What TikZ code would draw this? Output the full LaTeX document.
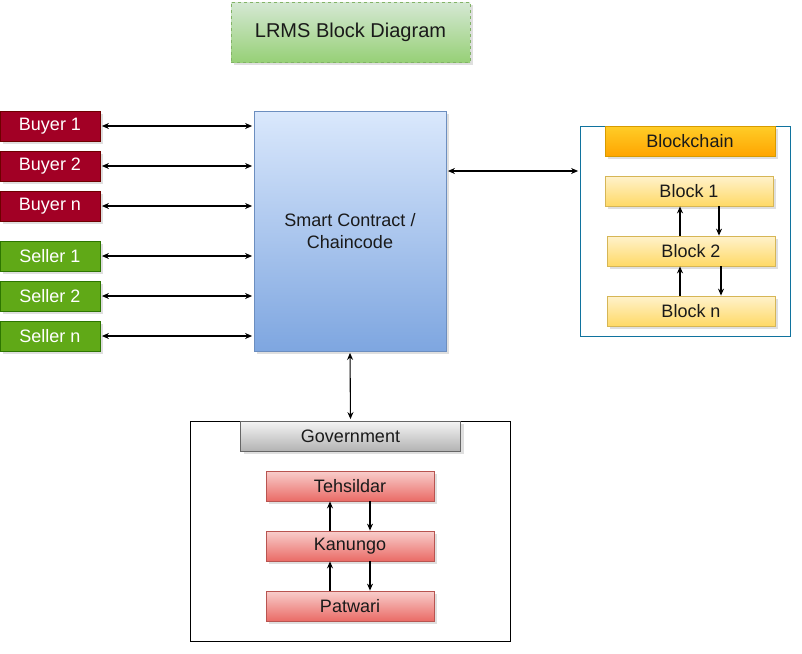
\documentclass[tikz,border=0pt]{standalone}
\usepackage{fontspec}
\setmainfont{Liberation Sans}
\usetikzlibrary{shadows}
\usetikzlibrary{arrows.meta}
\usetikzlibrary{calc}
\usepackage{xcolor}

\definecolor{buyerfill}{HTML}{A20025}
\definecolor{buyerline}{HTML}{6F0000}
\definecolor{sellerfill}{HTML}{60A917}
\definecolor{sellerline}{HTML}{2D7600}
\definecolor{sctop}{HTML}{DAE8FC}
\definecolor{scbot}{HTML}{7EA6E0}
\definecolor{scline}{HTML}{6C8EBF}
\definecolor{titletop}{HTML}{D5E8D4}
\definecolor{titlebot}{HTML}{97D077}
\definecolor{titleline}{HTML}{82B366}
\definecolor{chaintop}{HTML}{FFCD28}
\definecolor{chainbot}{HTML}{FFA500}
\definecolor{chainline}{HTML}{D79B00}
\definecolor{blocktop}{HTML}{FFF2CC}
\definecolor{blockbot}{HTML}{FFD966}
\definecolor{blockline}{HTML}{D6B656}
\definecolor{frameline}{HTML}{10739E}
\definecolor{govtop}{HTML}{F5F5F5}
\definecolor{govbot}{HTML}{B3B3B3}
\definecolor{govline}{HTML}{666666}
\definecolor{offtop}{HTML}{F8CECC}
\definecolor{offbot}{HTML}{EA6B66}
\definecolor{offline}{HTML}{B85450}
\definecolor{txt}{HTML}{1A1A1A}

\tikzset{
  box/.style={draw, line width=0.8pt, inner sep=0pt, text=txt,
    font=\fontsize{18}{22}\selectfont,
    drop shadow={shadow xshift=3pt, shadow yshift=-3pt, opacity=0.25}},
  buyer/.style={box, fill=buyerfill, draw=buyerline, text=white,
    minimum width=100pt, minimum height=30pt},
  seller/.style={box, fill=sellerfill, draw=sellerline, text=white,
    minimum width=100pt, minimum height=30pt},
  block/.style={box, top color=blocktop, bottom color=blockbot, draw=blockline,
    minimum width=168pt, minimum height=30pt},
  officer/.style={box, top color=offtop, bottom color=offbot, draw=offline,
    minimum width=168pt, minimum height=30pt},
  frame/.style={draw, line width=0.8pt, fill=white, inner sep=0pt},
  arr/.style={{Stealth[length=7pt,width=6pt]}-{Stealth[length=7pt,width=6pt]},
    line width=1.1pt, shorten <=1.5pt, shorten >=1.5pt},
  up/.style={-{Stealth[length=7pt,width=6pt]}, line width=1.1pt},
}

\begin{document}
\begin{tikzpicture}[x=1pt, y=-1pt]
\useasboundingbox (0,0) rectangle (802,653);

% title
\node[box, top color=titletop, bottom color=titlebot, draw=titleline, dashed,
  minimum width=239pt, minimum height=60pt, font=\fontsize{20}{24}\selectfont]
  (title) at (350.5,32) {LRMS Block Diagram};

% smart contract
\node[box, top color=sctop, bottom color=scbot, draw=scline, align=center,
  minimum width=192pt, minimum height=240pt] (sc) at (350,231)
  {Smart Contract /\\Chaincode};

% buyers and sellers
\foreach \lbl/\y [count=\i] in {Buyer 1/126, Buyer 2/166, Buyer n/206} {
  \node[buyer] (buyer\i) at (50,\y) {\lbl};
  \draw[arr] (buyer\i.east) -- (buyer\i.east -| sc.west);
}
\foreach \lbl/\y [count=\i] in {Seller 1/256, Seller 2/296, Seller n/336} {
  \node[seller] (seller\i) at (50,\y) {\lbl};
  \draw[arr] (seller\i.east) -- (seller\i.east -| sc.west);
}

% blockchain
\node[frame, draw=frameline, minimum width=210pt, minimum height=210pt]
  (chain) at (685,231) {};
\node[box, top color=chaintop, bottom color=chainbot, draw=chainline,
  minimum width=170pt, minimum height=30pt] (chainhead) at (690,141) {Blockchain};
\node[block] (blk1) at (689,191) {Block 1};
\node[block] (blk2) at (691,251) {Block 2};
\node[block] (blkn) at (691,311) {Block n};
\draw[arr] ([yshift=60pt]sc.east) -- ([yshift=60pt]sc.east -| chain.west);
\draw[up] ([xshift=-11pt]blk2.north) -- ([xshift=-11pt]blk2.north |- blk1.south);
\draw[up] ([xshift=30pt]blk1.south) -- ([xshift=30pt]blk1.south |- blk2.north);
\draw[up] ([xshift=-11pt]blkn.north) -- ([xshift=-11pt]blkn.north |- blk2.south);
\draw[up] ([xshift=30pt]blk2.south) -- ([xshift=30pt]blk2.south |- blkn.north);

% government
\node[frame, draw=black, minimum width=320pt, minimum height=220pt]
  (gov) at (350.5,531) {};
\node[box, top color=govtop, bottom color=govbot, draw=govline,
  minimum width=220pt, minimum height=30pt] (govhead) at (350.5,436) {Government};
\node[officer] (teh) at (350,486) {Tehsildar};
\node[officer] (kan) at (350,546) {Kanungo};
\node[officer] (pat) at (350,606) {Patwari};
\draw[arr] (sc.south) -- (gov.north);
\draw[up] ([xshift=-20pt]kan.north) -- ([xshift=-20pt]kan.north |- teh.south);
\draw[up] ([xshift=20pt]teh.south) -- ([xshift=20pt]teh.south |- kan.north);
\draw[up] ([xshift=-20pt]pat.north) -- ([xshift=-20pt]pat.north |- kan.south);
\draw[up] ([xshift=20pt]kan.south) -- ([xshift=20pt]kan.south |- pat.north);
\end{tikzpicture}
\end{document}
